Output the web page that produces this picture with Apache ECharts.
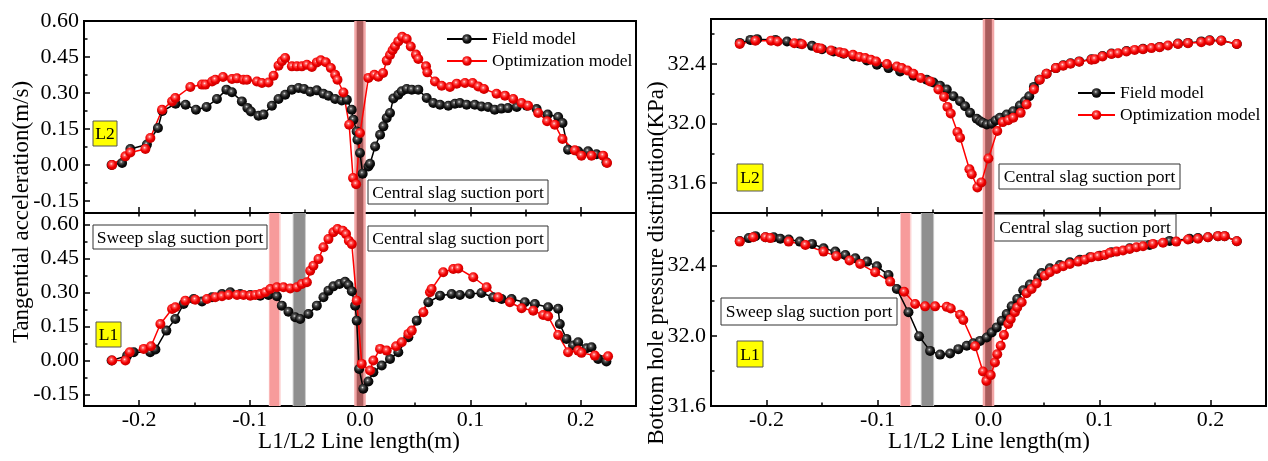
<!DOCTYPE html>
<html>
<head>
<meta charset="utf-8">
<script src="https://cdn.jsdelivr.net/npm/echarts@6/dist/echarts.min.js"></script>
<style>
  html, body { margin: 0; padding: 0; background: #fff; }
  #chart { width: 1268px; height: 461px; }
</style>
</head>
<body>
<div id="chart"></div>
<script>
// ---- Tangential acceleration along L2 (m/s), [line length (m), value]
const accL2Field = [
  [-0.225, 0.0], [-0.2155, 0.008], [-0.208, 0.067], [-0.193, 0.085], [-0.183, 0.154], [-0.179, 0.225],
  [-0.167, 0.255], [-0.158, 0.251], [-0.1486, 0.230], [-0.139, 0.242], [-0.1296, 0.275], [-0.121, 0.314],
  [-0.116, 0.303], [-0.107, 0.265], [-0.102, 0.238], [-0.0988, 0.223], [-0.0919, 0.205], [-0.0874, 0.21],
  [-0.0798, 0.247], [-0.0738, 0.275], [-0.0678, 0.293], [-0.0617, 0.314], [-0.0557, 0.321], [-0.0506, 0.317],
  [-0.0451, 0.305], [-0.0391, 0.311], [-0.0331, 0.297], [-0.0286, 0.289], [-0.0225, 0.275], [-0.0165, 0.269],
  [-0.0119, 0.272], [-0.0075, 0.23], [-0.006, 0.189], [-0.003, 0.14], [-0.0023, 0.105], [0.0, 0.05],
  [0.0024, -0.036], [0.0076, -0.006], [0.0091, 0.005], [0.0137, 0.077], [0.0182, 0.126], [0.0212, 0.161],
  [0.0242, 0.196], [0.0272, 0.217], [0.0302, 0.277], [0.0347, 0.293], [0.0378, 0.307], [0.0423, 0.317],
  [0.0469, 0.314], [0.0528, 0.314], [0.0604, 0.279], [0.0664, 0.258], [0.0725, 0.251], [0.08, 0.247],
  [0.086, 0.255], [0.0905, 0.258], [0.0966, 0.251], [0.104, 0.251], [0.110, 0.244], [0.116, 0.242],
  [0.122, 0.23], [0.128, 0.235], [0.134, 0.237], [0.142, 0.242], [0.151, 0.247], [0.16, 0.233],
  [0.170, 0.21], [0.1795, 0.2], [0.1834, 0.175], [0.1885, 0.064], [0.1976, 0.057], [0.2066, 0.057],
  [0.2142, 0.045], [0.2232, 0.011]
];
const accL2Opt = [
  [-0.2245, 0.0], [-0.2125, 0.036], [-0.208, 0.0525], [-0.1944, 0.067], [-0.1899, 0.1125], [-0.1793, 0.230],
  [-0.1702, 0.265], [-0.1673, 0.279], [-0.1537, 0.325], [-0.1431, 0.335], [-0.1401, 0.335], [-0.134, 0.348],
  [-0.1311, 0.355], [-0.1241, 0.367], [-0.116, 0.358], [-0.1114, 0.361], [-0.1055, 0.355], [-0.1024, 0.355],
  [-0.0934, 0.348], [-0.0888, 0.342], [-0.0829, 0.344], [-0.0783, 0.372], [-0.0738, 0.414], [-0.0708, 0.432],
  [-0.0678, 0.446], [-0.0617, 0.411], [-0.0572, 0.411], [-0.0527, 0.411], [-0.0481, 0.418], [-0.0436, 0.408],
  [-0.0391, 0.4275], [-0.0355, 0.436], [-0.031, 0.428], [-0.0264, 0.404], [-0.0225, 0.376], [-0.0204, 0.355],
  [-0.015, 0.302], [-0.0098, 0.168], [-0.0063, -0.054], [-0.0035, -0.08], [0.0, 0.133], [0.0076, 0.363],
  [0.013, 0.376], [0.0166, 0.368], [0.0209, 0.383], [0.0242, 0.435], [0.0272, 0.458], [0.0295, 0.478],
  [0.0317, 0.494], [0.0347, 0.515], [0.0382, 0.534], [0.0423, 0.525], [0.046, 0.494], [0.0507, 0.46],
  [0.0528, 0.442], [0.0598, 0.411], [0.061, 0.386], [0.0679, 0.348], [0.074, 0.33], [0.0815, 0.325],
  [0.0876, 0.339], [0.0951, 0.342], [0.102, 0.342], [0.1071, 0.3275], [0.1123, 0.317], [0.1237, 0.297],
  [0.1313, 0.289], [0.1388, 0.275], [0.1464, 0.258], [0.1523, 0.247], [0.1614, 0.217], [0.1695, 0.182],
  [0.1765, 0.168], [0.1834, 0.108], [0.1946, 0.061], [0.2006, 0.039], [0.2097, 0.039], [0.2202, 0.039],
  [0.2238, 0.008]
];

// ---- Tangential acceleration along L1 (m/s)
const accL1Field = [
  [-0.225, 0.0], [-0.2109, 0.022], [-0.205, 0.037], [-0.19, 0.037], [-0.1853, 0.0485], [-0.1754, 0.132],
  [-0.1673, 0.183], [-0.1598, 0.249], [-0.1507, 0.271], [-0.1431, 0.26], [-0.134, 0.279], [-0.125, 0.293],
  [-0.1175, 0.301], [-0.1085, 0.293], [-0.0994, 0.289], [-0.0904, 0.286], [-0.0829, 0.289], [-0.0753, 0.283],
  [-0.0708, 0.242], [-0.0648, 0.2155], [-0.0587, 0.191], [-0.0542, 0.183], [-0.0467, 0.205], [-0.0391, 0.242],
  [-0.0331, 0.279], [-0.0286, 0.308], [-0.0241, 0.327], [-0.0186, 0.337], [-0.0135, 0.347], [-0.0105, 0.333],
  [-0.0074, 0.305], [-0.0044, 0.242], [-0.003, 0.176], [-0.0008, -0.037], [0.003, -0.124], [0.0076, -0.092],
  [0.0121, -0.051], [0.0197, -0.022], [0.0272, 0.0075], [0.0347, 0.037], [0.0438, 0.103], [0.0514, 0.176],
  [0.0619, 0.257], [0.0725, 0.286], [0.083, 0.293], [0.0905, 0.289], [0.0996, 0.293], [0.110, 0.298],
  [0.1207, 0.279], [0.1283, 0.271], [0.1373, 0.271], [0.1493, 0.257], [0.1584, 0.249], [0.1704, 0.235],
  [0.1795, 0.228], [0.181, 0.161], [0.187, 0.0955], [0.193, 0.066], [0.1976, 0.081], [0.2051, 0.0545],
  [0.2097, 0.059], [0.2157, 0.0075], [0.2232, -0.004]
];
const accL1Opt = [
  [-0.2245, 0.0], [-0.2125, 0.0], [-0.2086, 0.037], [-0.1959, 0.0515], [-0.1893, 0.0633], [-0.1808, 0.1614],
  [-0.1702, 0.2274], [-0.1673, 0.235], [-0.1582, 0.264], [-0.1492, 0.268], [-0.1386, 0.271], [-0.1311, 0.279],
  [-0.125, 0.283], [-0.119, 0.289], [-0.1114, 0.289], [-0.1055, 0.289], [-0.0994, 0.286], [-0.0949, 0.289],
  [-0.0904, 0.293], [-0.0858, 0.301], [-0.0813, 0.315], [-0.0753, 0.323], [-0.0693, 0.323], [-0.0632, 0.318],
  [-0.0572, 0.323], [-0.0527, 0.337], [-0.0481, 0.345], [-0.0451, 0.396], [-0.0422, 0.418], [-0.0376, 0.447],
  [-0.0331, 0.499], [-0.0286, 0.535], [-0.0241, 0.565], [-0.0204, 0.579], [-0.0156, 0.572], [-0.0126, 0.557],
  [-0.0101, 0.528], [-0.0074, 0.513], [-0.003, 0.264], [0.0016, -0.0145], [0.0091, -0.044], [0.0121, 0.0],
  [0.0182, 0.0515], [0.0242, 0.044], [0.0327, 0.0633], [0.0378, 0.081], [0.0438, 0.1175], [0.0469, 0.132],
  [0.0574, 0.213], [0.0634, 0.301], [0.0649, 0.315], [0.0754, 0.389], [0.0845, 0.403], [0.089, 0.406],
  [0.1026, 0.367], [0.1147, 0.323], [0.1252, 0.279], [0.1358, 0.257], [0.1464, 0.2305], [0.1569, 0.22],
  [0.1659, 0.201], [0.1704, 0.195], [0.1795, 0.113], [0.1885, 0.037], [0.1976, 0.044], [0.2006, 0.034],
  [0.2127, 0.022], [0.2247, 0.019]
];

// ---- Bottom hole pressure along L2 (KPa)
const presL2Field = [
  [-0.2241, 32.54], [-0.2145, 32.56], [-0.2085, 32.565], [-0.192, 32.56], [-0.1815, 32.549], [-0.17, 32.535],
  [-0.159, 32.52], [-0.15, 32.498], [-0.1396, 32.482], [-0.1306, 32.467], [-0.1216, 32.449], [-0.1095, 32.422],
  [-0.1005, 32.393], [-0.0901, 32.371], [-0.0796, 32.349], [-0.0676, 32.32], [-0.0556, 32.293], [-0.0496, 32.275],
  [-0.0436, 32.253], [-0.0376, 32.227], [-0.0316, 32.182], [-0.0256, 32.149], [-0.0211, 32.115], [-0.0166, 32.071],
  [-0.0106, 32.031], [-0.0076, 32.015], [-0.0052, 32.004], [-0.0016, 31.993], [0.0029, 31.998], [0.0064, 32.02],
  [0.0103, 32.038], [0.0164, 32.06], [0.0223, 32.082], [0.0283, 32.12], [0.0328, 32.149], [0.0367, 32.182],
  [0.0409, 32.245], [0.0457, 32.293], [0.0523, 32.333], [0.0607, 32.371], [0.0673, 32.39], [0.0739, 32.403],
  [0.0817, 32.416], [0.0928, 32.43], [0.1027, 32.452], [0.1108, 32.468], [0.1243, 32.485], [0.1392, 32.5],
  [0.1542, 32.513], [0.1707, 32.535], [0.1797, 32.54], [0.1917, 32.55], [0.1992, 32.558], [0.2097, 32.556],
  [0.2237, 32.533]
];
const presL2Opt = [
  [-0.2241, 32.533], [-0.21, 32.555], [-0.1959, 32.555], [-0.19, 32.549], [-0.1749, 32.538], [-0.168, 32.531],
  [-0.154, 32.505], [-0.151, 32.502], [-0.1419, 32.489], [-0.1342, 32.478], [-0.13, 32.471], [-0.1221, 32.46],
  [-0.1162, 32.445], [-0.1111, 32.438], [-0.1059, 32.427], [-0.1012, 32.415], [-0.0915, 32.398], [-0.0826, 32.382],
  [-0.0781, 32.371], [-0.073, 32.355], [-0.0676, 32.333], [-0.061, 32.305], [-0.0526, 32.282], [-0.0451, 32.227],
  [-0.04, 32.178], [-0.037, 32.111], [-0.034, 32.067], [-0.028, 31.942], [-0.0256, 31.904], [-0.0172, 31.693],
  [-0.0151, 31.66], [-0.01, 31.571], [-0.0064, 31.605], [-0.0001, 31.765], [0.0079, 31.949], [0.0128, 32.009],
  [0.0178, 32.022], [0.0223, 32.038], [0.029, 32.071], [0.0343, 32.127], [0.0409, 32.227], [0.0463, 32.293],
  [0.0523, 32.333], [0.0607, 32.371], [0.0673, 32.387], [0.0739, 32.4], [0.0817, 32.413], [0.0928, 32.427],
  [0.0958, 32.431], [0.1027, 32.449], [0.1108, 32.465], [0.1167, 32.471], [0.1243, 32.482], [0.1317, 32.493],
  [0.1392, 32.498], [0.1468, 32.505], [0.1542, 32.511], [0.1617, 32.522], [0.1707, 32.533], [0.1797, 32.538],
  [0.1917, 32.545], [0.1992, 32.555], [0.2097, 32.555], [0.2237, 32.533]
];

// ---- Bottom hole pressure along L1 (KPa)
const presL1Field = [
  [-0.2241, 32.54], [-0.216, 32.557], [-0.21, 32.568], [-0.201, 32.562], [-0.1935, 32.562], [-0.1875, 32.553],
  [-0.18, 32.549], [-0.170, 32.537], [-0.159, 32.524], [-0.1486, 32.499], [-0.138, 32.48], [-0.129, 32.461],
  [-0.12, 32.442], [-0.1095, 32.423], [-0.1005, 32.396], [-0.0901, 32.347], [-0.0826, 32.267], [-0.0721, 32.134],
  [-0.0625, 31.997], [-0.0526, 31.914], [-0.0436, 31.893], [-0.0346, 31.899], [-0.0272, 31.924], [-0.0196, 31.943],
  [-0.0137, 31.958], [-0.0076, 31.971], [-0.0016, 31.99], [0.0029, 32.019], [0.0074, 32.048], [0.0119, 32.086],
  [0.0164, 32.124], [0.0209, 32.168], [0.0259, 32.21], [0.0313, 32.26], [0.0373, 32.292], [0.0448, 32.33],
  [0.0478, 32.358], [0.0553, 32.385], [0.0643, 32.404], [0.0733, 32.419], [0.0823, 32.434], [0.0913, 32.448],
  [0.1003, 32.457], [0.1108, 32.476], [0.1272, 32.499], [0.1452, 32.518], [0.1632, 32.541], [0.1812, 32.553],
  [0.1887, 32.557], [0.1977, 32.562], [0.2067, 32.568], [0.2127, 32.568], [0.2237, 32.539]
];
const presL1Opt = [
  [-0.2241, 32.537], [-0.212, 32.562], [-0.201, 32.562], [-0.1965, 32.557], [-0.18, 32.537], [-0.165, 32.518],
  [-0.1486, 32.48], [-0.1371, 32.454], [-0.1252, 32.429], [-0.1156, 32.41], [-0.1021, 32.362], [-0.0886, 32.309],
  [-0.076, 32.251], [-0.0661, 32.181], [-0.0571, 32.168], [-0.0481, 32.168], [-0.0376, 32.165], [-0.034, 32.156],
  [-0.0256, 32.12], [-0.0227, 32.09], [-0.0121, 31.941], [-0.005, 31.797], [-0.0019, 31.743], [0.002, 31.776],
  [0.0058, 31.848], [0.0079, 31.895], [0.011, 31.943], [0.0139, 32.004], [0.0178, 32.067], [0.02, 32.095],
  [0.0238, 32.134], [0.0259, 32.162], [0.0299, 32.191], [0.0343, 32.243], [0.0388, 32.267], [0.0433, 32.298],
  [0.0508, 32.343], [0.0553, 32.362], [0.0613, 32.381], [0.0673, 32.396], [0.0733, 32.41], [0.0808, 32.423],
  [0.0868, 32.434], [0.0928, 32.448], [0.0987, 32.454], [0.1048, 32.461], [0.1093, 32.473], [0.1153, 32.48],
  [0.1212, 32.486], [0.1272, 32.495], [0.1333, 32.505], [0.1392, 32.511], [0.1482, 32.524], [0.1572, 32.53],
  [0.1692, 32.537], [0.1797, 32.549], [0.1887, 32.553], [0.1977, 32.562], [0.2067, 32.568], [0.2127, 32.568],
  [0.2237, 32.539]
];

// ---- Tick values
const xMajorTicks = [-0.2, -0.1, 0.0, 0.1, 0.2];
const xMinorTicks = [-0.15, -0.05, 0.05, 0.15];
const accTicks = [-0.15, 0.0, 0.15, 0.30, 0.45, 0.60];
const accMinorTicks = [-0.075, 0.075, 0.225, 0.375, 0.525];
const presTicks = [31.6, 32.0, 32.4];
const presMinorTicks = [31.8, 32.2, 32.6];

// ---- Suction port positions (line length, m)
const centralPort = { outer: [-0.0052, 0.0052], inner: [-0.003, 0.003] };
const sweepPortAcc = { red: [-0.082, -0.0724], gray: [-0.061, -0.049] };
const sweepPortPres = { red: [-0.079, -0.070], gray: [-0.061, -0.049] };

const FONT = '"Liberation Serif", "Times New Roman", serif';

const chart = echarts.init(document.getElementById('chart'), null, { renderer: 'canvas' });

const redBall = new echarts.graphic.RadialGradient(0.42, 0.38, 0.62, [
  { offset: 0, color: '#ffe6e6' }, { offset: 0.22, color: '#ff5a5a' },
  { offset: 0.6, color: '#f20000' }, { offset: 1, color: '#c40000' }
]);
const blackBall = new echarts.graphic.RadialGradient(0.42, 0.38, 0.62, [
  { offset: 0, color: '#e0e0e0' }, { offset: 0.22, color: '#5a5a5a' },
  { offset: 0.6, color: '#141414' }, { offset: 1, color: '#000000' }
]);

const grids = [
  { left: 84, top: 21, width: 552, height: 192 },   // acceleration, L2
  { left: 84, top: 213, width: 552, height: 193 },  // acceleration, L1
  { left: 711, top: 19, width: 555, height: 194 },  // pressure, L2
  { left: 711, top: 213, width: 555, height: 193 }  // pressure, L1
].map(g => Object.assign({ show: true, borderColor: '#000', borderWidth: 2, backgroundColor: 'transparent' }, g));

const xAxes = [];
const yAxes = [];
const series = [];

function addX(g, extra) {
  xAxes.push(Object.assign({
    type: 'value', gridIndex: g, min: -0.25, max: 0.25, position: 'bottom',
    axisLine: { show: false, onZero: false }, splitLine: { show: false },
    axisLabel: { show: false }, axisTick: { show: false }
  }, extra));
  return xAxes.length - 1;
}
function addY(g, min, max, extra) {
  yAxes.push(Object.assign({
    type: 'value', gridIndex: g, min: min, max: max, position: 'left',
    axisLine: { show: false, onZero: false }, splitLine: { show: false },
    axisLabel: { show: false }, axisTick: { show: false }
  }, extra));
  return yAxes.length - 1;
}

const tickStyle = { color: '#000', width: 1.5 };

function buildPanel(g, cfg) {
  const xi = addX(g, {
    axisTick: { show: true, inside: true, length: 6, customValues: xMajorTicks, lineStyle: tickStyle },
    axisLabel: cfg.xLabels ? {
      show: true, customValues: xMajorTicks, margin: 3,
      formatter: v => v.toFixed(1), fontFamily: FONT, fontSize: 22, color: '#000'
    } : { show: false }
  });
  addX(g, { axisTick: { show: true, inside: true, length: 3.5, customValues: xMinorTicks, lineStyle: tickStyle } });
  if (cfg.topTicks) {
    addX(g, {
      position: 'top',
      axisTick: { show: true, inside: true, length: 3.5, customValues: xMajorTicks.concat(xMinorTicks), lineStyle: tickStyle }
    });
  }
  const yi = addY(g, cfg.yMin, cfg.yMax, {
    axisTick: { show: true, inside: true, length: 6, customValues: cfg.yTicks, lineStyle: tickStyle },
    axisLabel: {
      show: true, customValues: cfg.yTicks, margin: 5,
      formatter: v => v.toFixed(cfg.digits), fontFamily: FONT, fontSize: 22, color: '#000'
    }
  });
  addY(g, cfg.yMin, cfg.yMax, {
    axisTick: { show: true, inside: true, length: 3.5, customValues: cfg.yMinor, lineStyle: tickStyle }
  });

  // suction port bands
  const areas = [];
  if (cfg.sweep) {
    areas.push([{ xAxis: cfg.sweep.red[0] - 0.0006, itemStyle: { color: '#fcd4d4' } }, { xAxis: cfg.sweep.red[1] + 0.0006 }]);
    areas.push([{ xAxis: cfg.sweep.red[0], itemStyle: { color: '#f79b9b' } }, { xAxis: cfg.sweep.red[1] - 0.0008 }]);
    areas.push([{ xAxis: cfg.sweep.gray[0], itemStyle: { color: '#c9c9c9' } }, { xAxis: cfg.sweep.gray[1] }]);
    areas.push([{ xAxis: cfg.sweep.gray[0] + 0.0009, itemStyle: { color: '#8f8f8f' } }, { xAxis: cfg.sweep.gray[1] - 0.0009 }]);
  }
  areas.push([{ xAxis: centralPort.outer[0], itemStyle: { color: '#f3a6a6' } }, { xAxis: centralPort.outer[1] }]);
  areas.push([{ xAxis: centralPort.inner[0], itemStyle: { color: '#a95b5b' } }, { xAxis: centralPort.inner[1] }]);
  series.push({
    type: 'line', xAxisIndex: xi, yAxisIndex: yi, data: [], silent: true,
    markArea: { silent: true, label: { show: false }, data: areas }
  });

  series.push({
    name: 'Field model', type: 'line', xAxisIndex: xi, yAxisIndex: yi, data: cfg.field,
    symbol: 'circle', symbolSize: 10, showSymbol: true,
    lineStyle: { color: '#000', width: 1.5 }, itemStyle: { color: blackBall, borderWidth: 0 }
  });
  series.push({
    name: 'Optimization model', type: 'line', xAxisIndex: xi, yAxisIndex: yi, data: cfg.opt,
    symbol: 'circle', symbolSize: 10, showSymbol: true,
    lineStyle: { color: '#ff0000', width: 1.5 }, itemStyle: { color: redBall, borderWidth: 0 }
  });
}

buildPanel(0, { yMin: -0.2, yMax: 0.6, yTicks: accTicks, yMinor: accMinorTicks, digits: 2,
  field: accL2Field, opt: accL2Opt, xLabels: false });
buildPanel(1, { yMin: -0.2, yMax: 0.65, yTicks: accTicks, yMinor: accMinorTicks, digits: 2,
  field: accL1Field, opt: accL1Opt, xLabels: true, topTicks: true, sweep: sweepPortAcc });
buildPanel(2, { yMin: 31.4, yMax: 32.7, yTicks: presTicks, yMinor: presMinorTicks, digits: 1,
  field: presL2Field, opt: presL2Opt, xLabels: false });
buildPanel(3, { yMin: 31.6, yMax: 32.7, yTicks: presTicks, yMinor: presMinorTicks, digits: 1,
  field: presL1Field, opt: presL1Opt, xLabels: true, topTicks: true, sweep: sweepPortPres });

// annotation boxes
function box(x, y, w, h, text, fill, stroke) {
  return {
    type: 'group', x: x, y: y, z: 100,
    children: [
      { type: 'rect', shape: { x: 0, y: 0, width: w, height: h },
        style: { fill: fill, stroke: stroke, lineWidth: 1 } },
      { type: 'text', x: w / 2, y: h / 2 + 1,
        style: { text: text, font: '17.5px ' + FONT, fill: '#000', align: 'center', verticalAlign: 'middle' } }
    ]
  };
}
function title(x, y, text, rotate) {
  return {
    type: 'text', x: x, y: y, rotation: rotate ? Math.PI / 2 : 0, z: 100,
    style: { text: text, font: '23px ' + FONT, fill: '#000', align: 'center', verticalAlign: 'middle' }
  };
}

const portLabel = 'Central slag suction port';
const sweepLabel = 'Sweep slag suction port';

const legendBase = {
  orient: 'vertical', itemHeight: 12, itemGap: 4, padding: 0, selectedMode: false,
  textStyle: { fontFamily: FONT, fontSize: 17.5, color: '#000' },
  data: ['Field model', 'Optimization model']
};

const option = {
  animation: false,
  backgroundColor: '#fff',
  grid: grids,
  xAxis: xAxes,
  yAxis: yAxes,
  legend: [
    Object.assign({ left: 446, top: 30, itemWidth: 40 }, legendBase),
    Object.assign({ left: 1077, top: 84, itemWidth: 37 }, legendBase)
  ],
  series: series,
  graphic: [
    box(368, 180, 180, 24, portLabel, '#fff', '#333'),
    box(368, 226, 180, 25, portLabel, '#fff', '#333'),
    box(93, 225, 174, 24, sweepLabel, '#fff', '#333'),
    box(93, 121, 24, 25, 'L2', '#ffff00', '#555'),
    box(96, 322, 25, 25, 'L1', '#ffff00', '#555'),
    box(999, 164, 181, 25, portLabel, '#fff', '#333'),
    box(994, 214, 182, 27, portLabel, '#fff', '#333'),
    box(721, 298, 176, 27, sweepLabel, '#fff', '#333'),
    box(737, 164, 26, 27, 'L2', '#ffff00', '#555'),
    box(737, 341, 26, 26, 'L1', '#ffff00', '#555'),
    title(22, 212, 'Tangential acceleration(m/s)', true),
    title(657, 263, 'Bottom hole pressure distribution(KPa)', true),
    title(359, 442, 'L1/L2 Line length(m)', false),
    title(989, 442, 'L1/L2 Line length(m)', false)
  ]
};

chart.setOption(option);
</script>
</body>
</html>
